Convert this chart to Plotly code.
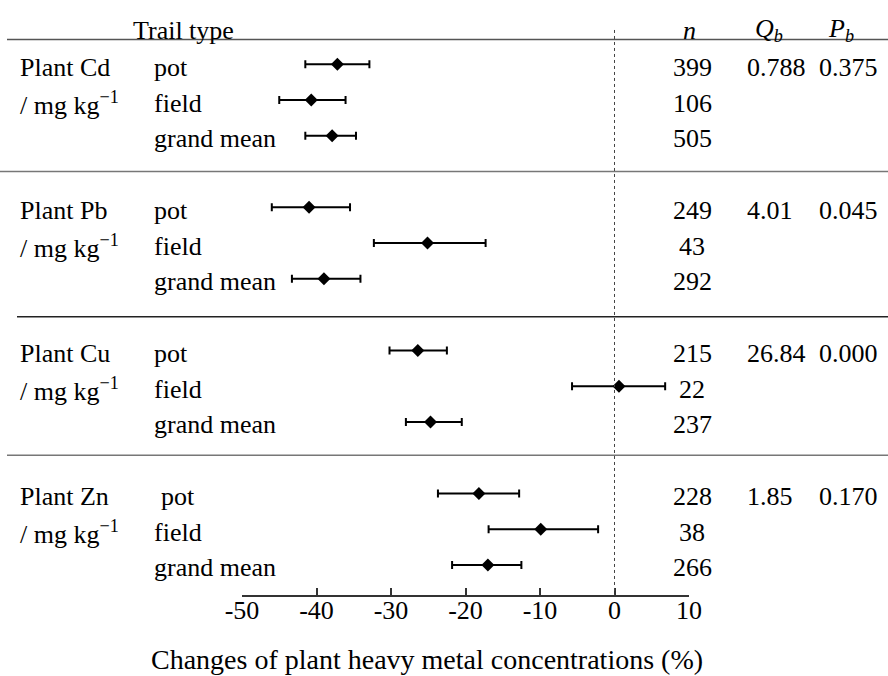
import plotly.graph_objects as go

# ---- data -------------------------------------------------------------
metals = ["Cd", "Pb", "Cu", "Zn"]
trial_types = ["pot", "field", "grand mean"]

# mean change (%) and 95% CI bounds for each metal, per trial type
cd_mean = [-37.2, -40.7, -37.9]
cd_low = [-41.5, -45.0, -41.5]
cd_high = [-32.9, -36.1, -34.7]

pb_mean = [-41.0, -25.1, -39.0]
pb_low = [-46.0, -32.3, -43.3]
pb_high = [-35.5, -17.3, -34.1]

cu_mean = [-26.4, 0.6, -24.7]
cu_low = [-30.2, -5.7, -28.0]
cu_high = [-22.5, 6.8, -20.5]

zn_mean = [-18.2, -9.9, -17.0]
zn_low = [-23.7, -16.9, -21.8]
zn_high = [-12.8, -2.2, -12.5]

# sample sizes
cd_n = [399, 106, 505]
pb_n = [249, 43, 292]
cu_n = [215, 22, 237]
zn_n = [228, 38, 266]

# between-group heterogeneity statistics
qb_values = ["0.788", "4.01", "26.84", "1.85"]
pb_values = ["0.375", "0.045", "0.000", "0.170"]

tick_values = [-50, -40, -30, -20, -10, 0, 10]
tick_labels = ["-50", "-40", "-30", "-20", "-10", "0", "10"]
x_title = "Changes of plant heavy metal concentrations (%)"

means = [cd_mean, pb_mean, cu_mean, zn_mean]
lows = [cd_low, pb_low, cu_low, zn_low]
highs = [cd_high, pb_high, cu_high, zn_high]
counts = [cd_n, pb_n, cu_n, zn_n]

# ---- layout helpers -----------------------------------------------------
W, H = 888, 676
PLOT_L, PLOT_R = 242, 689          # pixel extent of the x axis
PLOT_B = 595                       # pixel position of the x axis line
FONT = "Liberation Serif"
FS = 26

def xp(px):
    """pixel column -> paper x"""
    return (px - PLOT_L) / (PLOT_R - PLOT_L)

def row_index(group, row):
    # one blank row is left between metal groups
    return 4 * group + row

Y_TOP, Y_BOTTOM = -1.798, 14.84    # y range in row units (top of page -> axis)

fig = go.Figure()

xs, ys, eplus, eminus = [], [], [], []
for g in range(len(metals)):
    for r in range(len(trial_types)):
        m = means[g][r]
        xs.append(m)
        ys.append(row_index(g, r))
        eplus.append(highs[g][r] - m)
        eminus.append(m - lows[g][r])

fig.add_trace(go.Scatter(
    x=xs, y=ys, mode="markers",
    marker=dict(symbol="diamond", size=10, color="black"),
    error_x=dict(type="data", symmetric=False, array=eplus, arrayminus=eminus,
                 color="black", thickness=2, width=4),
    cliponaxis=False, showlegend=False, hoverinfo="skip",
))

ann = []
def text(x_px, y, s, anchor="left", size=FS, yshift=-3, yref="y"):
    ann.append(dict(x=xp(x_px), xref="paper", y=y, yref=yref, text=s,
                    xanchor=anchor, yanchor="middle", showarrow=False,
                    yshift=yshift, font=dict(family=FONT, size=size, color="black")))

# column headers
text(183, -1.04, "Trail type", anchor="center")
text(689, -1.04, "<i>n</i>", anchor="center")
text(769, -1.04, "<i>Q<sub>b</sub></i>", anchor="center")
text(841, -1.04, "<i>P<sub>b</sub></i>", anchor="center")

for g, metal in enumerate(metals):
    text(18, row_index(g, 0), f"Plant {metal}")
    text(18, row_index(g, 1), "/ mg kg<sup>−1</sup>")
    for r, t in enumerate(trial_types):
        indent = 7 if (metal == "Zn" and t == "pot") else 0
        text(152 + indent, row_index(g, r), t)
        text(692, row_index(g, r), str(counts[g][r]), anchor="center")
    text(745, row_index(g, 0), qb_values[g])
    text(880, row_index(g, 0), pb_values[g], anchor="right")

# axis title, under the figure body
ann.append(dict(x=xp(427), xref="paper", y=(PLOT_B - 659) / PLOT_B, yref="paper",
                text=x_title, xanchor="center", yanchor="middle", showarrow=False,
                font=dict(family=FONT, size=28, color="black")))

shapes = [
    # header rule
    dict(type="line", xref="paper", yref="y", x0=xp(7), x1=xp(888),
         y0=-0.694, y1=-0.694, line=dict(color="#555", width=1.5)),
    # group separators
    dict(type="line", xref="paper", yref="y", x0=xp(0), x1=xp(888),
         y0=3.0, y1=3.0, line=dict(color="#777", width=1.5)),
    dict(type="line", xref="paper", yref="y", x0=xp(17), x1=xp(888),
         y0=7.06, y1=7.06, line=dict(color="#222", width=1.5)),
    dict(type="line", xref="paper", yref="y", x0=xp(7), x1=xp(888),
         y0=10.93, y1=10.93, line=dict(color="#777", width=1.5)),
    # zero reference line
    dict(type="line", xref="x", yref="y", x0=0, x1=0, y0=-0.96, y1=Y_BOTTOM,
         line=dict(color="#444", width=1, dash="dot")),
]

fig.update_layout(
    width=W, height=H,
    margin=dict(l=PLOT_L, r=W - PLOT_R, t=0, b=H - PLOT_B, pad=0),
    paper_bgcolor="white", plot_bgcolor="white",
    font=dict(family=FONT, color="black"),
    annotations=ann, shapes=shapes,
    xaxis=dict(range=[-50, 10], tickvals=tick_values, ticktext=tick_labels,
               showline=True, linecolor="#333", linewidth=1.5,
               ticks="inside", ticklen=7, tickwidth=1.5, tickcolor="#333",
               tickfont=dict(family=FONT, size=FS, color="black"),
               ticklabelstandoff=-9,
               showgrid=False, zeroline=False, fixedrange=True),
    yaxis=dict(range=[Y_BOTTOM, Y_TOP], visible=False, showgrid=False,
               zeroline=False, fixedrange=True),
)

fig.write_html("out.html")
